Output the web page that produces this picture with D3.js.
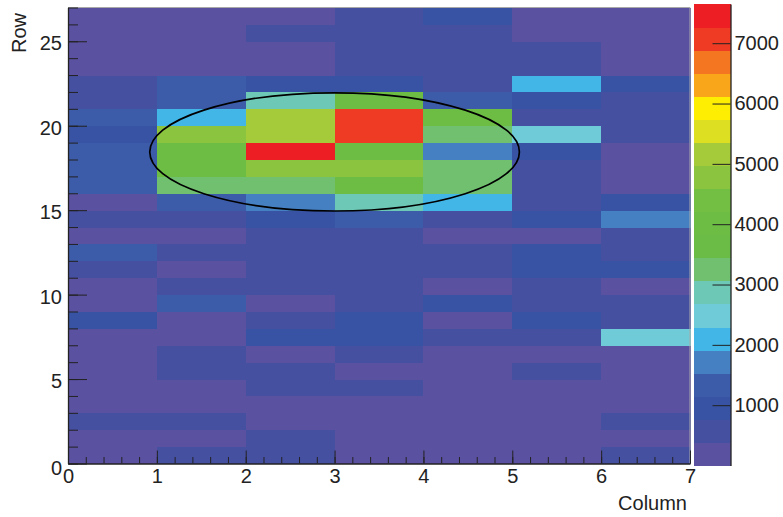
<!DOCTYPE html>
<html>
<head>
<meta charset="utf-8">
<script src="https://cdn.jsdelivr.net/npm/d3@7"></script>
<style>
  html, body { margin: 0; padding: 0; background: #ffffff; }
  svg text { font-family: "Liberation Sans", Arial, sans-serif; fill: #222; }
</style>
</head>
<body>
<svg id="chart" width="783" height="517"></svg>
<script>
// ---------------- data ----------------
const columns = [0, 1, 2, 3, 4, 5, 6];            // bin lower edges (x)
const rows = d3.range(0, 27);                        // bin lower edges (y), 0..26
const xTickLabels = [0, 1, 2, 3, 4, 5, 6, 7];
const yTickLabels = [0, 5, 10, 15, 20, 25];
const zTickLabels = [1000, 2000, 3000, 4000, 5000, 6000, 7000];
const zMin = 0;
const zMax = 7650;
// counts per row (row 0 first), one value per column
const row0  = [180, 560, 600, 240, 220, 200, 570];
const row1  = [230, 250, 580, 270, 210, 190, 260];
const row2  = [600, 570, 280, 250, 200, 270, 590];
const row3  = [240, 260, 300, 220, 190, 250, 230];
const row4  = [200, 270, 590, 560, 280, 230, 210];
const row5  = [250, 610, 570, 290, 230, 600, 180];
const row6  = [220, 590, 310, 580, 260, 240, 200];
const row7  = [260, 300, 930, 1000, 600, 620, 2500];
const row8  = [980, 280, 610, 970, 320, 900, 640];
const row9  = [290, 1260, 310, 590, 940, 620, 570];
const row10 = [240, 610, 580, 640, 300, 560, 270];
const row11 = [600, 280, 620, 570, 590, 960, 900];
const row12 = [1290, 630, 590, 610, 560, 920, 600];
const row13 = [270, 250, 570, 600, 300, 260, 580];
const row14 = [610, 580, 960, 1250, 600, 950, 1740];
const row15 = [300, 1280, 1710, 2880, 2090, 620, 990];
const row16 = [1330, 3280, 3300, 3950, 3240, 590, 310];
const row17 = [1300, 4000, 4800, 4760, 3230, 640, 260];
const row18 = [1350, 4050, 7650, 4100, 1700, 980, 290];
const row19 = [890, 4760, 5200, 7120, 3260, 2460, 610];
const row20 = [1310, 2080, 5150, 7060, 3900, 630, 570];
const row21 = [580, 1340, 2850, 3980, 1270, 940, 600];
const row22 = [620, 1290, 980, 1010, 650, 2110, 930];
const row23 = [190, 240, 280, 600, 570, 610, 250];
const row24 = [230, 270, 300, 580, 620, 540, 220];
const row25 = [250, 200, 520, 610, 640, 260, 190];
const row26 = [210, 180, 240, 590, 960, 230, 170];
const counts = [row0,row1,row2,row3,row4,row5,row6,row7,row8,row9,row10,row11,row12,row13,
                row14,row15,row16,row17,row18,row19,row20,row21,row22,row23,row24,row25,row26];
// ellipse (data units)
const ellipseCenter = [3, 18.45];
const ellipseRadii = [2.08, 3.5];

// palette (20 contour levels, low -> high)
const palette = ["#5b51a1","#4650a1","#3853a3","#3c5ba8","#4580c2","#42b6e7","#70cbd9","#6dc8b5",
                 "#71c070","#6abc46","#6dbd45","#72bf44","#8bc43f","#a5ca3a","#dde022","#fdee02",
                 "#f9a61a","#f47620","#ef3b24","#ed1f24"];
const nLevels = palette.length;

// ---------------- layout ----------------
const svg = d3.select("#chart");
const plot = { left: 68, right: 690, top: 7.5, bottom: 463.5 };
const x = d3.scaleLinear().domain([0, 7]).range([plot.left, plot.right]);
const y = d3.scaleLinear().domain([0, 27]).range([plot.bottom, plot.top]);
const z = d3.scaleLinear().domain([zMin, zMax]).range([465.5, 4]);

function levelOf(v) {
  let l = Math.floor((v - zMin) / (zMax - zMin) * nLevels);
  return Math.max(0, Math.min(nLevels - 1, l));
}

// cells
const cells = [];
rows.forEach(r => columns.forEach(c => cells.push({ r, c, v: counts[r][c] })));
svg.append("g").attr("shape-rendering", "crispEdges").selectAll("rect").data(cells).join("rect")
  .attr("x", d => x(d.c))
  .attr("y", d => y(d.r + 1))
  .attr("width", d => x(d.c + 1) - x(d.c) + 0.5)
  .attr("height", d => y(d.r) - y(d.r + 1) + 0.5)
  .attr("fill", d => palette[levelOf(d.v)]);

// frame top / right (gray)
svg.append("line").attr("x1", plot.left).attr("x2", plot.right).attr("y1", plot.top).attr("y2", plot.top)
  .attr("stroke", "#a8a8a8").attr("stroke-width", 1);
svg.append("line").attr("x1", plot.right).attr("x2", plot.right).attr("y1", plot.top).attr("y2", plot.bottom)
  .attr("stroke", "#a8a8a8").attr("stroke-width", 1);

// ellipse
svg.append("ellipse")
  .attr("cx", x(ellipseCenter[0]))
  .attr("cy", y(ellipseCenter[1]))
  .attr("rx", x(ellipseRadii[0]) - x(0))
  .attr("ry", y(0) - y(ellipseRadii[1]))
  .attr("fill", "none").attr("stroke", "#000").attr("stroke-width", 1.7);

// x axis minor ticks
svg.append("g").attr("transform", `translate(0,${plot.bottom})`)
  .call(d3.axisBottom(x).tickValues(d3.range(0, 35).map(i => i / 5)).tickSizeInner(-6.5).tickSizeOuter(0).tickFormat(""))
  .call(g => g.select(".domain").remove())
  .call(g => g.selectAll("line").attr("stroke", "#222"));
// x axis major
svg.append("g").attr("transform", `translate(0,${plot.bottom})`)
  .call(d3.axisBottom(x).tickValues(xTickLabels).tickSizeInner(-13).tickSizeOuter(0).tickPadding(5).tickFormat(d3.format("d")))
  .call(g => g.select(".domain").attr("stroke", "#222").attr("stroke-width", 1.3))
  .call(g => g.selectAll("line").attr("stroke", "#222"))
  .call(g => g.selectAll("text").attr("font-size", 20).attr("fill", "#222")
        .attr("font-family", "'Liberation Sans', Arial, sans-serif"));

// y axis minor ticks
svg.append("g").attr("transform", `translate(${plot.left},0)`)
  .call(d3.axisLeft(y).tickValues(d3.range(0, 28)).tickSizeInner(-10).tickSizeOuter(0).tickFormat(""))
  .call(g => g.select(".domain").remove())
  .call(g => g.selectAll("line").attr("stroke", "#222"));
// y axis major
svg.append("g").attr("transform", `translate(${plot.left},0)`)
  .call(d3.axisLeft(y).tickValues(yTickLabels).tickSizeInner(-19).tickSizeOuter(0).tickPadding(6).tickFormat(d3.format("d")))
  .call(g => g.select(".domain").attr("stroke", "#222").attr("stroke-width", 1.3))
  .call(g => g.selectAll("line").attr("stroke", "#222"))
  .call(g => g.selectAll("text").attr("font-size", 20).attr("fill", "#222")
        .attr("font-family", "'Liberation Sans', Arial, sans-serif")
        .attr("dy", d => d === 0 ? "0.55em" : "0.42em"));

// axis titles
svg.append("text").attr("x", plot.right - 3).attr("y", 510).attr("text-anchor", "end")
  .attr("font-size", 20).text("Column");
svg.append("text").attr("transform", `translate(26,13) rotate(-90)`).attr("text-anchor", "end")
  .attr("font-size", 20).text("Row");

// colour bar
const cb = { x0: 694, x1: 731 };
const levels = d3.range(nLevels).map(i => ({
  i, lo: zMin + i * (zMax - zMin) / nLevels, hi: zMin + (i + 1) * (zMax - zMin) / nLevels
}));
svg.append("g").attr("shape-rendering", "crispEdges").selectAll("rect").data(levels).join("rect")
  .attr("x", cb.x0).attr("width", cb.x1 - cb.x0)
  .attr("y", d => z(d.hi)).attr("height", d => z(d.lo) - z(d.hi) + 0.5)
  .attr("fill", d => palette[d.i]);
svg.append("g").attr("transform", `translate(${cb.x1 - 0.5},0)`)
  .call(d3.axisRight(z).tickValues(zTickLabels).tickSizeInner(-18).tickSizeOuter(0).tickPadding(4).tickFormat(d3.format("d")))
  .call(g => g.select(".domain").attr("stroke", "#222").attr("stroke-width", 1.3))
  .call(g => g.selectAll("line").attr("stroke", "#222"))
  .call(g => g.selectAll("text").attr("font-size", 20).attr("fill", "#222")
        .attr("font-family", "'Liberation Sans', Arial, sans-serif"));
</script>
</body>
</html>
